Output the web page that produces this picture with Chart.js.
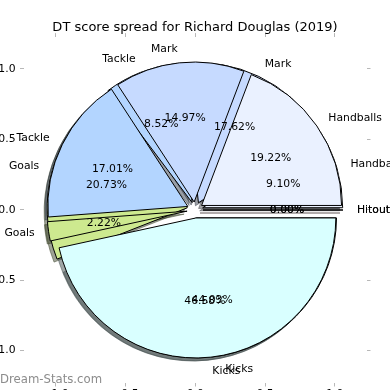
<!DOCTYPE html>
<html>
<head>
<meta charset="utf-8">
<script src="https://cdn.jsdelivr.net/npm/chart.js@4.4.1/dist/chart.umd.min.js"></script>
<style>
  html, body { margin: 0; padding: 0; background: #fff; }
  #wrap { position: relative; width: 390px; height: 390px; overflow: hidden; }
  #wrap canvas { position: absolute; left: 0; top: 0; }
  #wrap canvas.shadow { left: -3px; top: 3px; }
</style>
</head>
<body>
<div id="wrap">
  <canvas id="axes" width="390" height="390"></canvas>
  <canvas id="shadowBack" class="shadow" width="390" height="390"></canvas>
  <canvas id="shadowFront" class="shadow" width="390" height="390"></canvas>
  <canvas id="pieBack" width="390" height="390"></canvas>
  <canvas id="pieFront" width="390" height="390"></canvas>
</div>
<script>
const categories = ['Hitout', 'Handballs', 'Mark', 'Tackle', 'Goals', 'Kicks']
const frontShare = [0.00, 19.22, 14.97, 17.01, 2.22, 46.58]
const backShare = [0.00, 9.10, 17.62, 8.52, 20.73, 44.03]
const sliceColors = ['#ffd9d9', '#eaf1ff', '#c6daff', '#b3d5ff', '#cde98f', '#d9ffff']
const axisTicks = [-1, -0.5, 0, 0.5, 1]
const axisLimit = 1.23

const EXPLODE = 8 // px each wedge is pushed out from the centre

Chart.defaults.font.family = "'DejaVu Sans', sans-serif"

// arc that is moved out along its mid angle, like matplotlib's explode
class ExplodedArc extends Chart.ArcElement {
  static id = 'explodedArc'
  draw(ctx) {
    const mid = (this.startAngle + this.endAngle) / 2
    ctx.save()
    ctx.translate(Math.cos(mid) * EXPLODE, Math.sin(mid) * EXPLODE)
    if (this.circumference === 0) {
      // a zero wedge still leaves its edge line
      ctx.beginPath()
      ctx.moveTo(this.x, this.y)
      ctx.lineTo(this.x + Math.cos(mid) * this.outerRadius, this.y + Math.sin(mid) * this.outerRadius)
      ctx.strokeStyle = this.options.borderColor
      ctx.lineWidth = this.options.borderWidth
      ctx.stroke()
    } else {
      super.draw(ctx)
    }
    ctx.restore()
  }
}
class ExplodedPie extends Chart.PieController {
  static id = 'explodedPie'
  static defaults = { dataElementType: 'explodedArc' }
}
Chart.register(ExplodedArc, ExplodedPie)

function shade(hex) {
  const n = parseInt(hex.slice(1), 16)
  const r = (n >> 16) & 255, g = (n >> 8) & 255, b = n & 255
  return `rgba(${Math.round(r * 0.3)},${Math.round(g * 0.3)},${Math.round(b * 0.3)},0.5)`
}

function axisScale(position, showLabels, size) {
  const horizontal = position === 'top' || position === 'bottom'
  return {
    type: 'linear',
    position: position,
    axis: horizontal ? 'x' : 'y',
    min: -axisLimit,
    max: axisLimit,
    afterBuildTicks: s => { s.ticks = axisTicks.map(v => ({ value: v })) },
    afterFit: s => {
      if (horizontal) s.height = size; else s.width = size
      s.paddingTop = s.paddingBottom = s.paddingLeft = s.paddingRight = 0
    },
    border: { display: false },
    grid: { drawOnChartArea: false, drawTicks: true, tickLength: 3.5, color: '#b8b8b8' },
    ticks: {
      display: showLabels,
      color: '#000',
      font: { size: 10.8 },
      padding: horizontal ? 1.5 : 4.5,
      maxRotation: 0,
      autoSkip: false,
      callback: v => (v < 0 ? '\u2212' : '') + Math.abs(v).toFixed(1)
    }
  }
}

const watermark = {
  id: 'watermark',
  afterDraw(chart) {
    const c = chart.ctx
    c.save()
    c.font = "11.7px 'DejaVu Sans'"
    c.fillStyle = '#8c8c8c'
    c.textBaseline = 'middle'
    c.fillText('Dream-Stats.com', 0, 380)
    c.restore()
  }
}

new Chart(document.getElementById('axes'), {
  type: 'scatter',
  data: { datasets: [] },
  options: {
    responsive: false,
    animation: false,
    events: [],
    plugins: {
      legend: { display: false },
      tooltip: { enabled: false },
      title: {
        display: true,
        text: 'DT score spread for Richard Douglas (2019)',
        color: '#000',
        font: { size: 13, weight: 'normal' },
        padding: { top: 20, bottom: 0 }
      }
    },
    scales: {
      x: axisScale('bottom', true, 7),
      x2: axisScale('top', false, 1),
      y: axisScale('left', true, 23.5),
      y2: axisScale('right', false, 23)
    }
  },
  plugins: [watermark]
})

function pieChart(id, shares, fills, edges, extraPlugins) {
  return new Chart(document.getElementById(id), {
    type: 'explodedPie',
    data: {
      labels: categories.slice().reverse(),
      datasets: [{
        data: shares.slice().reverse(),
        backgroundColor: fills.slice().reverse(),
        borderColor: Array.isArray(edges) ? edges.slice().reverse() : edges,
        borderWidth: 1,
        borderJoinStyle: 'miter'
      }]
    },
    options: {
      responsive: false,
      animation: false,
      events: [],
      radius: 140,
      rotation: 90, // start at 3 o'clock like matplotlib
      layout: { padding: { top: 30 } },
      plugins: { legend: { display: false }, tooltip: { enabled: false } }
    },
    plugins: extraPlugins || []
  })
}

function drawSliceText(c, srcChart, shares) {
  const names = categories.slice().reverse()
  const values = shares.slice().reverse()
  const total = values.reduce((a, b) => a + b, 0)
  c.save()
  c.font = "10.8px 'DejaVu Sans'"
  c.fillStyle = '#000'
  c.textBaseline = 'middle'
  srcChart.getDatasetMeta(0).data.forEach((arc, i) => {
    const p = arc.getProps(['x', 'y', 'startAngle', 'endAngle', 'outerRadius'])
    const mid = (p.startAngle + p.endAngle) / 2
    const cos = Math.cos(mid), sin = Math.sin(mid)
    const cx = p.x + EXPLODE * cos, cy = p.y + EXPLODE * sin
    const r = p.outerRadius
    c.textAlign = cos > 0 ? 'left' : 'right'
    c.fillText(names[i], cx + 1.1 * r * cos, cy + 1.1 * r * sin)
    c.textAlign = 'center'
    c.fillText((values[i] / total * 100).toFixed(2) + '%', cx + 0.6 * r * cos, cy + 0.6 * r * sin)
  })
  c.restore()
}

pieChart('shadowBack', backShare, sliceColors.map(shade), sliceColors.map(shade))
pieChart('shadowFront', frontShare, sliceColors.map(shade), sliceColors.map(shade))
const backPie = pieChart('pieBack', backShare, sliceColors, '#000')

const sliceText = {
  id: 'sliceText',
  afterDraw(chart) {
    drawSliceText(chart.ctx, backPie, backShare)
    drawSliceText(chart.ctx, chart, frontShare)
  }
}
pieChart('pieFront', frontShare, sliceColors, '#000', [sliceText])
</script>
</body>
</html>
